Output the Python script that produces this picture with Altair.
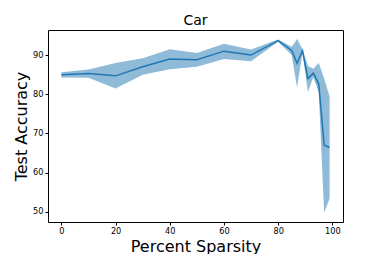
import altair as alt
import pandas as pd

sparsity = [0, 10, 20, 30, 40, 50, 60, 70, 80, 85, 87, 89, 91, 93, 95, 97, 99]
mean_acc = [85.0, 85.3, 84.7, 87.0, 89.0, 88.8, 91.0, 90.0, 93.7, 91.2, 87.9, 91.1, 84.0, 85.4, 82.6, 67.0, 66.4]
upper_acc = [85.6, 86.3, 88.0, 89.2, 91.5, 90.5, 92.9, 91.4, 94.0, 92.1, 94.1, 91.5, 87.2, 86.5, 88.0, 84.0, 79.4]
lower_acc = [84.3, 84.2, 81.5, 85.0, 86.4, 87.0, 89.0, 88.4, 93.4, 90.0, 81.7, 90.5, 80.6, 84.4, 80.5, 49.8, 53.4]

df = pd.DataFrame({"x": sparsity, "m": mean_acc, "hi": upper_acc, "lo": lower_acc})

FONT = "DejaVu Sans"
xs = alt.Scale(domain=[-4.95, 103.95], nice=False, zero=False)
ys = alt.Scale(domain=[47.4, 96.4], nice=False, zero=False)

xaxis = alt.Axis(values=[0, 20, 40, 60, 80, 100], grid=False, title="Percent Sparsity",
                 titleFontSize=16, titleFont=FONT, titleFontWeight="normal", titleColor="black",
                 titleY=29, titleBaseline="alphabetic",
                 labelFont=FONT, labelFontSize=8.2, labelColor="black", tickColor="black",
                 domain=False, tickSize=3, labelPadding=2)
yaxis = alt.Axis(values=[50, 60, 70, 80, 90], grid=False, title="Test Accuracy",
                 titleFontSize=16, titleFont=FONT, titleFontWeight="normal", titleColor="black",
                 labelFont=FONT, labelFontSize=8.2, labelColor="black", tickColor="black",
                 domain=False, tickSize=3, labelPadding=2, titlePadding=3)

band = alt.Chart(df).mark_area(color="#1f77b4", opacity=0.5).encode(
    x=alt.X("x:Q", scale=xs, axis=xaxis),
    y=alt.Y("lo:Q", scale=ys, axis=yaxis),
    y2="hi:Q",
)
line = alt.Chart(df).mark_line(color="#1f77b4", strokeWidth=1.5).encode(
    x=alt.X("x:Q", scale=xs),
    y=alt.Y("m:Q", scale=ys),
)

chart = (band + line).properties(
    width=295, height=192,
    title=alt.TitleParams("Car", fontSize=14, font=FONT, fontWeight="normal", color="black", offset=2),
    autosize=alt.AutoSizeParams(type="none"),
    padding={"left": 40, "top": 22, "right": 30, "bottom": 32},
).configure_view(stroke="black", strokeWidth=1)

chart.save("out.html", embed_options={"renderer": "svg", "actions": False})
